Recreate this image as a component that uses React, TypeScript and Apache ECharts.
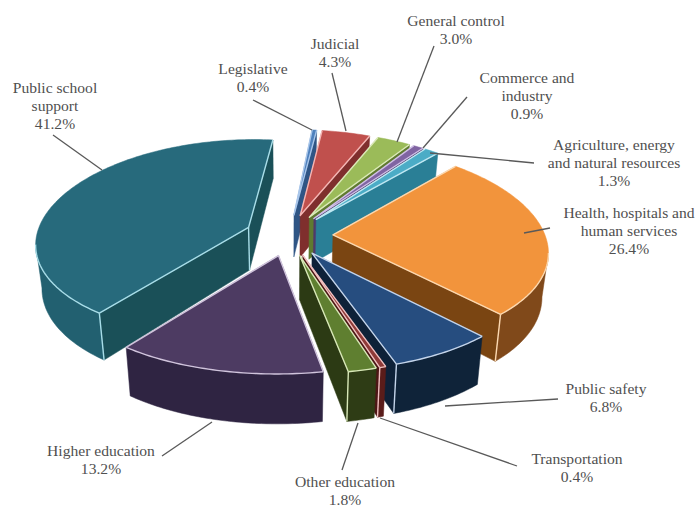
import React, { useEffect, useRef } from "react";
import * as echarts from "echarts";

// Budget shares, clockwise from the top of the pie.
const categories: string[][] = [
  ["Legislative"],
  ["Judicial"],
  ["General control"],
  ["Commerce and", "industry"],
  ["Agriculture, energy", "and natural resources"],
  ["Health, hospitals and", "human services"],
  ["Public safety"],
  ["Transportation"],
  ["Other education"],
  ["Higher education"],
  ["Public school", "support"],
];
const shares = [0.4, 4.3, 3.0, 0.9, 1.3, 26.4, 6.8, 0.4, 1.8, 13.2, 41.2];

// Colours per slice: top face, radial wall, rim wall, highlight edge.
const topColors = ["#4f81bd", "#c0504d", "#9bbb59", "#8064a2", "#4bacc6", "#f2943c", "#264d7f", "#8f3a38", "#5f7f30", "#4d3b62", "#276a7c"];
const radialColors = ["#2f5585", "#7f2f2d", "#5f7a30", "#4f3a6b", "#2a7f96", "#7a4512", "#0e2138", "#4c1615", "#2c3a14", "#2d2340", "#1a5058"];
const rimColors = ["#3a659a", "#8f3533", "#6a8737", "#5a4378", "#2f87a0", "#80491a", "#0f2339", "#5a1c1a", "#2e3c15", "#2f2442", "#226070"];
const edgeColors = ["#a9c6ea", "#f4b6b4", "#dbe9b8", "#d0c0e6", "#c0e8f2", "#fbd8b0", "#c4d4ea", "#f0c0c0", "#d8e8b8", "#d0c4dc", "#a8dde8"];

// Text blocks (centre x, top y) and their leader lines, in the same order as the slices.
const labelAnchors = [
  [253, 59], [335, 34], [456, 11], [527, 68], [614, 135], [629, 203], [606, 379], [577, 449], [345, 472], [101, 441], [55, 78],
];
const leaderLines = [
  [[253, 100], [312, 130]],
  [[332, 73], [346, 131]],
  [[434, 46], [397, 142]],
  [[467, 97], [423, 148]],
  [[534, 163], [430, 153]],
  [[550, 228], [524, 233]],
  [[558, 399], [445, 406]],
  [[517, 466], [380, 418]],
  [[342, 470], [358, 423]],
  [[162, 456], [212, 422]],
  [[53, 135], [102, 170]],
];

// Projection of the tilted pie.
const CX = 289;
const CY = 235;
const RADIUS = 212;
const TILT = 0.47;
const PERSPECTIVE_X = 0.15;
const PERSPECTIVE_Y = 0.115;
const DEPTH = 43;
const TAPER = 0.025;
const EXPLODE = 44;
const ROTATION = 6;

type Pt = [number, number];

const project = (X: number, Y: number, z: number): Pt => {
  const sx = 1 / (1 + (PERSPECTIVE_X * Y) / RADIUS);
  const sy = 1 / (1 + (PERSPECTIVE_Y * Y) / RADIUS);
  const shrink = 1 - (TAPER * z) / DEPTH;
  return [CX + X * sx * shrink, CY - TILT * Y * sy + z * sy];
};

const total = shares.reduce((a, b) => a + b, 0);
const starts = shares.map((_, i) => shares.slice(0, i).reduce((a, b) => a + b, 0));
const midAngle = (i: number) => ROTATION + ((starts[i] + shares[i] / 2) / total) * 360;

// Far slices first so nearer ones paint over them.
const drawOrder = shares
  .map((_, i) => i)
  .sort((a, b) => Math.cos((midAngle(b) * Math.PI) / 180) - Math.cos((midAngle(a) * Math.PI) / 180));

const renderSlice = (_params: any, api: any) => {
  const value = api.value(0);
  const start = api.value(1);
  const i = api.value(2);
  const a0 = ROTATION + (start / total) * 360;
  const a1 = a0 + (value / total) * 360;
  const mid = (((a0 + a1) / 2) * Math.PI) / 180;
  const ox = EXPLODE * Math.sin(mid);
  const oy = EXPLODE * Math.cos(mid);

  const at = (deg: number, r: number, z: number): Pt => {
    const t = (deg * Math.PI) / 180;
    return project(ox + r * Math.sin(t), oy + r * Math.cos(t), z);
  };

  const steps = Math.max(2, Math.ceil(a1 - a0));
  const angles = Array.from({ length: steps + 1 }, (_, k) => a0 + ((a1 - a0) * k) / steps);
  const rimTop = angles.map((a) => at(a, RADIUS, 0));
  const rimLow = angles.map((a) => at(a, RADIUS, DEPTH));
  const apexTop = at(0, 0, 0);
  const apexLow = at(0, 0, DEPTH);
  const midRim = at((a0 + a1) / 2, RADIUS, 0);

  const wallVisible = (end: Pt) => {
    const vx = end[0] - apexTop[0];
    const vy = end[1] - apexTop[1];
    const side = vx * (midRim[1] - apexTop[1]) - vy * (midRim[0] - apexTop[0]);
    return vx * side < 0;
  };

  const poly = (points: Pt[], fill: string) => ({
    type: "polygon",
    shape: { points },
    style: { fill, stroke: fill, lineWidth: 0.5 },
    silent: true,
  });
  const edge = (points: Pt[]) => ({
    type: "polyline",
    shape: { points },
    style: { fill: "none", stroke: edgeColors[i], lineWidth: 1.4, lineJoin: "round" },
    silent: true,
  });

  const children: any[] = [];
  const first = rimTop[0];
  const last = rimTop[steps];
  const showStart = wallVisible(first);
  const showEnd = wallVisible(last);
  if (showStart) children.push(poly([apexTop, first, rimLow[0], apexLow], radialColors[i]));
  if (showEnd) children.push(poly([apexTop, last, rimLow[steps], apexLow], radialColors[i]));

  // Rim wall: only the stretch that turns towards the viewer.
  const front: number[] = [];
  for (let k = 0; k < steps; k++) {
    if (rimTop[k + 1][0] < rimTop[k][0]) {
      if (!front.length) front.push(k);
      front.push(k + 1);
    }
  }
  if (front.length) {
    const upper = front.map((k) => rimTop[k]);
    const lower = front.map((k) => rimLow[k]).reverse();
    children.push(poly([...upper, ...lower], rimColors[i]));
  }

  children.push(poly([apexTop, ...rimTop], topColors[i]));

  if (front.length) {
    children.push(edge(front.map((k) => rimTop[k])));
    if (front[0] === 0 && showStart) children.push(edge([first, rimLow[0]]));
    if (front[front.length - 1] === steps && showEnd) children.push(edge([last, rimLow[steps]]));
  }
  children.push(edge([first, apexTop, last]));
  if (showStart && showEnd) children.push(edge([apexTop, apexLow]));

  return { type: "group", children };
};

const labelText = (i: number) => [...categories[i], `${shares[i].toFixed(1)}%`].join("\n");

export default function App() {
  const ref = useRef<HTMLDivElement>(null);

  useEffect(() => {
    document.body.style.margin = "0";
    const chart = echarts.init(ref.current!, undefined, { renderer: "svg" });
    chart.setOption({
      animation: false,
      backgroundColor: "#ffffff",
      series: [
        {
          type: "custom",
          coordinateSystem: "none",
          renderItem: renderSlice,
          data: drawOrder.map((i) => [shares[i], starts[i], i]),
          silent: true,
        },
      ],
      graphic: [
        ...leaderLines.map(([a, b]) => ({
          type: "line",
          silent: true,
          z: 20,
          shape: { x1: a[0], y1: a[1], x2: b[0], y2: b[1] },
          style: { stroke: "#595959", lineWidth: 1.3 },
        })),
        ...labelAnchors.map(([x, y], i) => ({
          type: "text",
          silent: true,
          z: 21,
          x,
          y,
          style: {
            text: labelText(i),
            align: "center",
            verticalAlign: "top",
            font: '15.6px "Liberation Serif"',
            lineHeight: 18,
            fill: "#505050",
          },
        })),
      ],
    });
    return () => chart.dispose();
  }, []);

  return <div ref={ref} style={{ width: 700, height: 506 }} />;
}
